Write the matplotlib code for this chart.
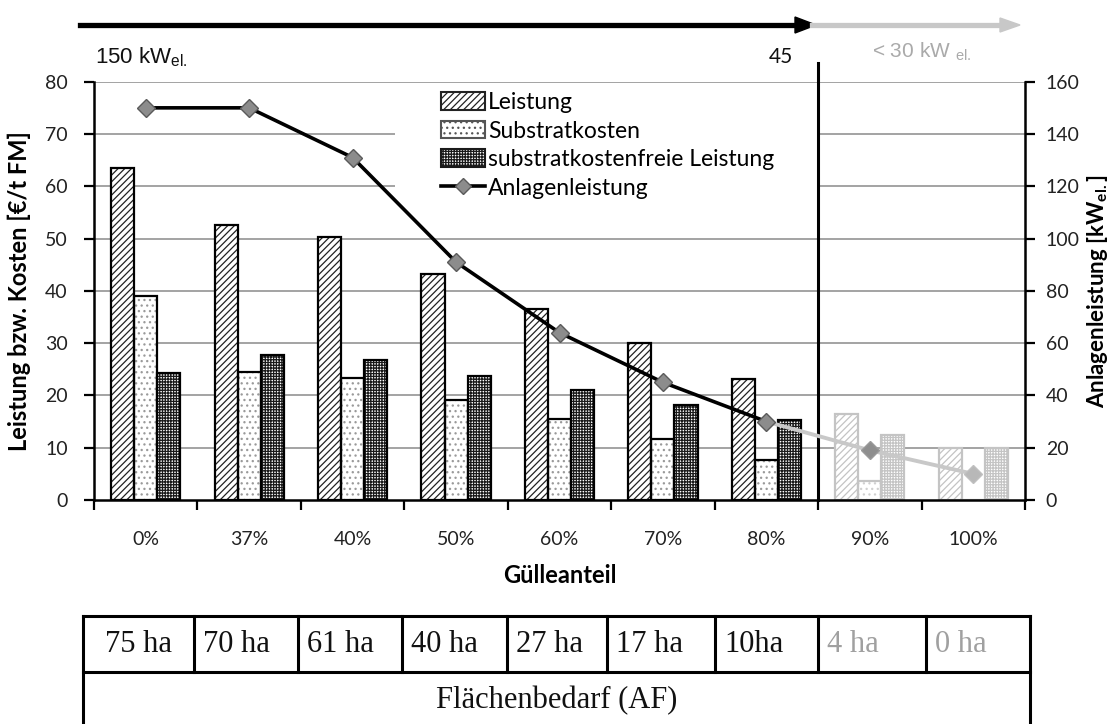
import matplotlib
matplotlib.use("Agg")
import matplotlib.pyplot as plt
from matplotlib.patches import Rectangle
from matplotlib.lines import Line2D
import numpy as np

# ---------------- data ----------------
categories = ["0%", "37%", "40%", "50%", "60%", "70%", "80%", "90%", "100%"]
leistung = [63.5, 52.5, 50.3, 43.3, 36.5, 30.0, 23.2, 16.5, 10.0]
substratkosten = [39.0, 24.5, 23.3, 19.2, 15.5, 11.7, 7.6, 3.6, 0.0]
substratfrei = [24.3, 27.7, 26.7, 23.8, 21.0, 18.2, 15.3, 12.5, 10.0]
anlagenleistung = [150, 150, 131, 91, 64, 45, 30, 19, 10]
flaechen = ["75 ha", "70 ha", "61 ha", "40 ha", "27 ha", "17 ha", "10ha", "4 ha", "0 ha"]
n_active = 7  # first seven categories black, rest greyed out
left_ticks = [0, 10, 20, 30, 40, 50, 60, 70, 80]
right_ticks = [0, 20, 40, 60, 80, 100, 120, 140, 160]

W, H = 1112, 724
DPI = 100
fig = plt.figure(figsize=(W / DPI, H / DPI), dpi=DPI)
plt.rcParams['hatch.linewidth'] = 0.9

SANS = ["Lato", "DejaVu Sans"]
SERIF = ["Liberation Serif", "DejaVu Serif"]

def fx(px):
    return px / W

def fy(py):
    return 1 - py / H

ax_l, ax_r, ax_t, ax_b = 94, 1025, 81.7, 500
ax = fig.add_axes([fx(ax_l), fy(ax_b), (ax_r - ax_l) / W, (ax_b - ax_t) / H])
ax2 = ax.twinx()

n = len(categories)
x = np.arange(n)
bw = 0.223
GREY = "#c4c4c4"

ax.set_xlim(-0.5, n - 0.5)
ax.set_ylim(0, 80)
ax2.set_ylim(0, 160)

# grid
for v in left_ticks[1:]:
    ax.axhline(v, color="#8a8a8a", lw=1.1, zorder=0.5)

# white area behind legend (hides grid lines)
ax.add_patch(Rectangle(((395 - ax_l) / (ax_r - ax_l), (ax_b - 225) / (ax_b - ax_t)),
                       (817 - 395) / (ax_r - ax_l), (225 - 90) / (ax_b - ax_t),
                       transform=ax.transAxes, facecolor="white", edgecolor="none", zorder=0.8))

series = [
    (leistung, "/////", "Leistung", -bw),
    (substratkosten, "...", "Substratkosten", 0.0),
    (substratfrei, "++++++", "substratkostenfreie Leistung", bw),
]
hatch_cols_active = ["#222222", "#9a9a9a", "#1a1a1a"]
hatch_cols_grey = [GREY, "#d0d0d0", GREY]

for si, (vals, hatch, label, off) in enumerate(series):
    for i in range(n):
        active = i < n_active
        hc = hatch_cols_active[si] if active else hatch_cols_grey[si]
        ec = "black" if active else GREY
        ax.bar(x[i] + off, vals[i], width=bw, facecolor="white", edgecolor=hc,
               hatch=hatch, linewidth=0, zorder=2)
        ax.bar(x[i] + off, vals[i], width=bw, fill=False, edgecolor=ec,
               linewidth=1.6, zorder=2.5)

# vertical separator line
sep_x = n_active - 0.5
ax.plot([sep_x, sep_x], [0, 1.045], transform=ax.get_xaxis_transform(),
        color="black", lw=2.2, clip_on=False, zorder=3)

# Anlagenleistung line
ax2.plot(x[:n_active], anlagenleistung[:n_active], color="black", lw=2.6, zorder=3)
ax2.plot(x[n_active - 1:], anlagenleistung[n_active - 1:], color="#c8c8c8", lw=2.8, zorder=3)
ax2.plot(x[:n_active], anlagenleistung[:n_active], ls="none", marker="D", ms=9.5,
         mfc="#8c8c8c", mec="#5a5a5a", mew=1.0, zorder=4)
ax2.plot(x[n_active], anlagenleistung[n_active], ls="none", marker="D", ms=9.5,
         mfc="#8e8e8e", mec="#9a9a9a", mew=1.0, zorder=4)
ax2.plot(x[n_active + 1:], anlagenleistung[n_active + 1:], ls="none", marker="D", ms=9.5,
         mfc="#b8b8b8", mec="#c0c0c0", mew=1.0, zorder=4)

# spines / ticks
for a in (ax, ax2):
    a.spines["top"].set_visible(False)
ax.spines["right"].set_visible(False)
ax2.spines["left"].set_visible(False)
ax2.spines["bottom"].set_visible(False)
ax.spines["left"].set_linewidth(1.8)
ax.spines["bottom"].set_linewidth(1.8)
ax2.spines["right"].set_linewidth(1.8)

ax.set_yticks(left_ticks)
ax2.set_yticks(right_ticks)
ax.set_xticks(np.arange(n + 1) - 0.5)
ax.set_xticklabels([])
ax.set_xticks(x, minor=True)
ax.set_xticklabels(categories, minor=True, fontsize=14, family=SANS, color="#222222")
ax.tick_params(axis="x", which="major", length=7, width=1.6, direction="out")
ax.tick_params(axis="x", which="minor", length=0, pad=22)
ax.tick_params(axis="y", length=7, width=1.6, direction="out", labelsize=14, pad=12)
ax2.tick_params(axis="y", length=7, width=1.6, direction="out", labelsize=14, pad=8)
for lab in ax.get_yticklabels() + ax2.get_yticklabels():
    lab.set_family(SANS)
    lab.set_color("#222222")

ax.set_ylabel("Leistung bzw. Kosten [€/t FM]", fontsize=17, fontweight="bold",
              family=SANS, labelpad=10)
ax2.set_ylabel(r"Anlagenleistung [kW$_{\mathregular{el.}}$]", fontsize=16,
               fontweight="bold", family=SANS, labelpad=4)
ax.set_xlabel("Gülleanteil", fontsize=17, fontweight="bold", family=SANS, labelpad=12)

# legend
handles = [
    Rectangle((0, 0), 1, 1, facecolor="white", edgecolor="#222222", hatch="/////", lw=1.5),
    Rectangle((0, 0), 1, 1, facecolor="white", edgecolor="#555555", hatch="...", lw=1.5),
    Rectangle((0, 0), 1, 1, facecolor="white", edgecolor="#1a1a1a", hatch="++++++", lw=1.5),
    Line2D([], [], color="black", lw=2.6, marker="D", ms=8, mfc="#8c8c8c", mec="#5a5a5a"),
]
labels = ["Leistung", "Substratkosten", "substratkostenfreie Leistung", "Anlagenleistung"]
leg = ax2.legend(handles, labels, loc="upper left",
                 bbox_to_anchor=((441 - ax_l) / (ax_r - ax_l), (ax_b - 92) / (ax_b - ax_t)),
                 frameon=False, prop={"family": SANS, "size": 16.5}, handlelength=1.9,
                 handleheight=0.8, handletextpad=0.15, labelspacing=0.33, borderpad=0,
                 borderaxespad=0)

# top arrow and annotations
fig.add_artist(Line2D([fx(80), fx(800)], [fy(25), fy(25)], color="black", lw=3.8))
fig.add_artist(Line2D([fx(812), fx(1005)], [fy(25), fy(25)], color="#c8c8c8", lw=3.8))
fig.patches.append(plt.Polygon([[fx(795), fy(17)], [fx(816), fy(25)], [fx(795), fy(33)]],
                               closed=True, transform=fig.transFigure, color="black"))
fig.patches.append(plt.Polygon([[fx(1000), fy(18)], [fx(1020), fy(25)], [fx(1000), fy(32)]],
                               closed=True, transform=fig.transFigure, color="#c8c8c8"))
fig.text(fx(95), fy(57), r"150 kW$_{\mathregular{el.}}$", fontsize=16,
         family=["Liberation Sans"], va="center", ha="left", color="#111111")
fig.text(fx(793), fy(57), "45", fontsize=15, family=SANS, va="center", ha="right",
         color="#111111")
fig.text(fx(872), fy(52), r"< 30 kW $_{\mathregular{el.}}$", fontsize=15,
         family=["Liberation Sans"], va="center", ha="left", color="#aaaaaa")

# table below
t_left, t_right, t_top, t_mid, t_bot = 83, 1030, 616, 672, 740
col_edges = [83, 194, 298, 402, 507, 607, 715, 818, 926, 1030]
lw_t = 2.2
def hline(x0, x1, y):
    fig.add_artist(Line2D([fx(x0), fx(x1)], [fy(y), fy(y)], color="black", lw=lw_t))
def vline(xp, y0, y1):
    fig.add_artist(Line2D([fx(xp), fx(xp)], [fy(y0), fy(y1)], color="black", lw=lw_t))
hline(t_left, t_right, t_top)
hline(t_left, t_right, t_mid)
vline(t_left, t_top, t_bot)
vline(t_right, t_top, t_bot)
for ce in col_edges[1:-1]:
    vline(ce, t_top, t_mid)
for i, txt in enumerate(flaechen):
    col = "#111111" if i < n_active else "#a0a0a0"
    if i == 0:
        xc = (col_edges[0] + col_edges[1]) / 2
        fig.text(fx(xc), fy(644), txt, fontsize=22, family=SERIF, ha="center",
                 va="center", color=col)
    else:
        fig.text(fx(col_edges[i] + 9), fy(644), txt, fontsize=22, family=SERIF,
                 ha="left", va="center", color=col)
fig.text(fx((t_left + t_right) / 2), fy(701), "Flächenbedarf (AF)", fontsize=22,
         family=SERIF, ha="center", va="center", color="#111111")

fig.savefig("out.png", dpi=DPI)
